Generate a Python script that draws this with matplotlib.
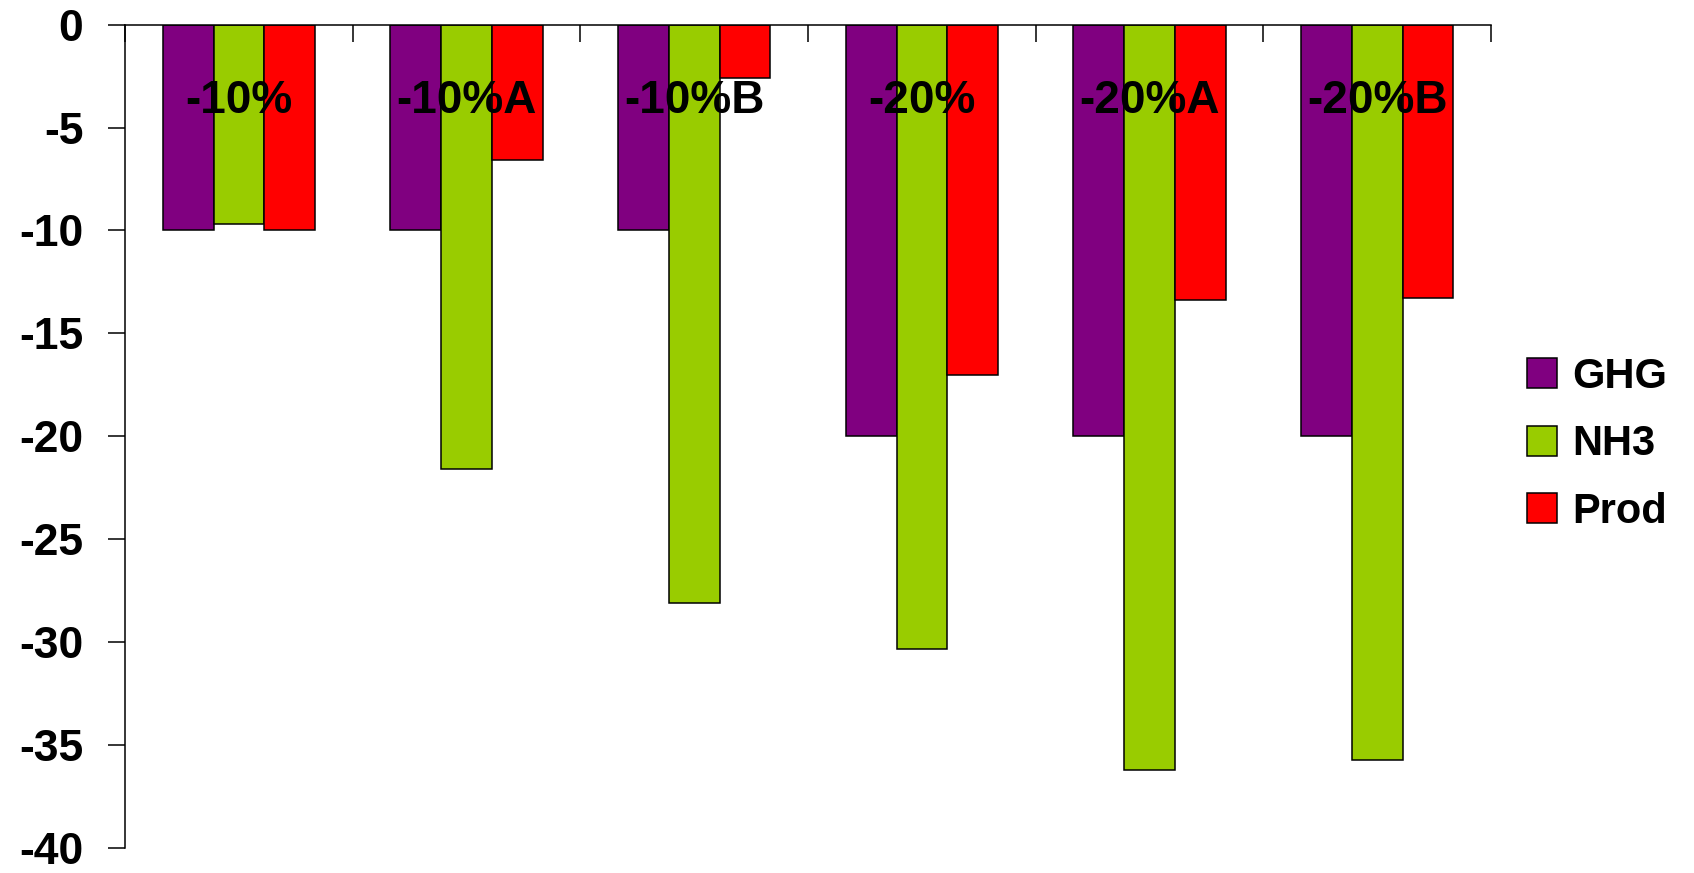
import numpy as np
import matplotlib.pyplot as plt

plt.rcParams['font.family'] = ['Liberation Sans', 'DejaVu Sans']
plt.rcParams['font.weight'] = 'bold'
plt.rcParams['axes.unicode_minus'] = False

scenarios = ['-10%', '-10%A', '-10%B', '-20%', '-20%A', '-20%B']
ghg = [-10, -10, -10, -20, -20, -20]
nh3 = [-9.7, -21.6, -28.1, -30.3, -36.2, -35.7]
prod = [-10, -6.6, -2.6, -17.0, -13.4, -13.3]

series = [('GHG', ghg, '#800080'), ('NH3', nh3, '#99CC00'), ('Prod', prod, '#FF0000')]

fig = plt.figure(figsize=(16.94, 8.73), dpi=100)
ax = fig.add_axes([0.0738, 0.0283, 0.8064, 0.9436])

x = np.arange(len(scenarios))
w = 0.2227
for i, (name, vals, col) in enumerate(series):
    ax.bar(x + (i - 1) * w, vals, w, color=col, edgecolor='black',
           linewidth=1.1, label=name, zorder=2)

# scenario names sit inside the plot just under the zero line
for xi, s in zip(x, scenarios):
    ax.text(xi, -3.7, s, ha='center', va='center', fontsize=33,
            fontweight='bold', zorder=3)

ax.set_xlim(-0.5, len(scenarios) - 0.5)
ax.set_ylim(-40, 0)
ax.set_yticks(np.arange(-40, 1, 5))
ax.set_yticklabels([str(v) for v in range(-40, 1, 5)])
ax.tick_params(axis='y', direction='out', length=12, width=1.1,
               labelsize=32, pad=18)

# category separators hang down from the zero line
ax.xaxis.tick_top()
ax.set_xticks(np.arange(len(scenarios) + 1) - 0.5)
ax.tick_params(axis='x', direction='in', length=12, width=1.1,
               labeltop=False, labelbottom=False)

for side in ['right', 'bottom']:
    ax.spines[side].set_visible(False)
for side in ['left', 'top']:
    ax.spines[side].set_linewidth(1.1)

ax.legend(loc='center left', bbox_to_anchor=(0.9012, 0.491),
          bbox_transform=fig.transFigure, frameon=False, fontsize=30,
          handlelength=0.72, handleheight=0.72, handletextpad=0.38,
          labelspacing=0.66, borderpad=0, borderaxespad=0)

fig.savefig('out.png', dpi=100)
